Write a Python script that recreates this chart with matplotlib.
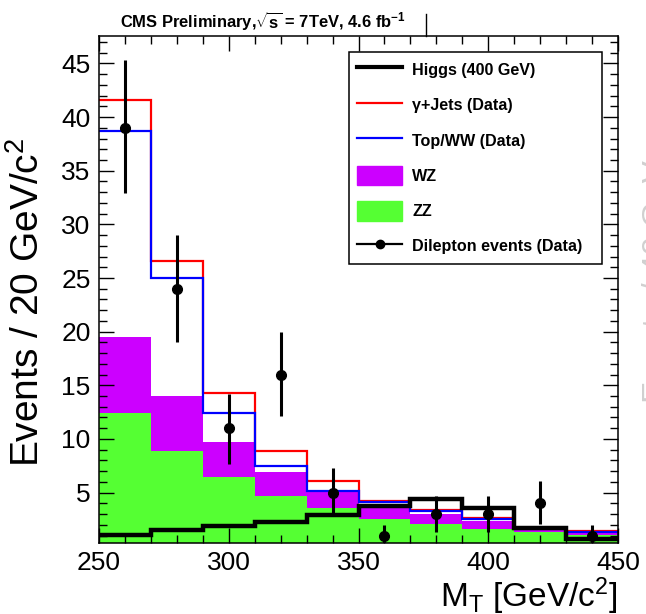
import numpy as np
import matplotlib
matplotlib.use("Agg")
import matplotlib.pyplot as plt
from matplotlib.lines import Line2D
from matplotlib.patches import Patch

plt.rcParams["font.family"] = ["Liberation Sans", "DejaVu Sans"]
plt.rcParams["mathtext.fontset"] = "custom"
plt.rcParams["mathtext.rm"] = "Liberation Sans"
plt.rcParams["mathtext.it"] = "Liberation Sans:italic"
plt.rcParams["mathtext.bf"] = "Liberation Sans:bold"

# bins in M_T (GeV/c^2)
bin_edges = [250, 270, 290, 310, 330, 350, 370, 390, 410, 430, 450]
bin_centers = [260, 280, 300, 320, 340, 360, 380, 400, 420, 440]

# background components (stacked: ZZ, WZ, Top/WW, gamma+jets)
zz = [12.4, 8.9, 6.5, 4.65, 3.52, 2.5, 2.1, 1.57, 1.32, 1.05]
wz = [7.1, 5.15, 3.17, 2.25, 1.55, 1.15, 0.88, 0.75, 0.25, 0.3]
top_ww = [19.2, 10.95, 2.73, 0.57, 0.05, 0.45, 0.29, 0.2, 0.03, 0.02]
gamma_jets = [2.9, 1.6, 1.84, 1.41, 0.92, 0.15, 0.1, 0.15, 0.05, 0.04]

# signal
higgs = [1.05, 1.55, 1.87, 2.3, 2.9, 3.77, 4.4, 3.55, 1.73, 0.65]

# data
data = [39, 24, 11, 16, 5, 1, 3, 3, 4, 1]
err_lo = [6.1, 5.0, 3.3, 3.9, 2.0, 1.0, 1.7, 1.7, 1.95, 1.0]
err_hi = [6.3, 5.0, 3.2, 4.0, 2.3, 1.0, 1.72, 1.72, 2.07, 1.0]

col_wz = "#cc00ff"
col_zz = "#55ff33"

s_zz = np.array(zz)
s_wz = s_zz + np.array(wz)
s_top = s_wz + np.array(top_ww)
s_gj = s_top + np.array(gamma_jets)

fig = plt.figure(figsize=(6.46, 6.14), dpi=100)
ax = fig.add_axes([0.1533, 0.1156, 0.8034, 0.8265])

ymin, ymax = 0.3, 47.6
ax.stairs(s_zz, bin_edges, baseline=ymin, fill=True, color=col_zz, lw=0)
ax.stairs(s_wz, bin_edges, baseline=s_zz, fill=True, color=col_wz, lw=0)
ax.stairs(s_gj, bin_edges, baseline=None, color="#ff0000", lw=1.6)
ax.stairs(s_top, bin_edges, baseline=None, color="#0000ff", lw=1.6)
ax.stairs(higgs, bin_edges, baseline=None, color="black", lw=3.2)
ax.errorbar(bin_centers, data, yerr=[err_lo, err_hi], fmt="o", color="black",
            ms=7, elinewidth=2.2, capsize=0, zorder=5)

ax.set_xlim(250, 450)
ax.set_ylim(ymin, ymax)
ax.set_xticks([250, 300, 350, 400, 450])
ax.set_xticks(np.arange(250, 451, 10), minor=True)
ax.set_yticks([5, 10, 15, 20, 25, 30, 35, 40, 45])
ax.set_yticks(np.arange(1, 48, 1), minor=True)
ax.tick_params(which="both", direction="in", top=True, right=True, width=1)
ax.tick_params(which="major", length=11, labelsize=19, pad=6)
ax.tick_params(which="minor", length=6)
for sp in ax.spines.values():
    sp.set_linewidth(1.1)

ax.set_ylabel("Events / 20 GeV/c$^{2}$", fontsize=28)
ax.yaxis.set_label_coords(-0.1, 0.475)
ax.set_xlabel(r"M$_{\rm T}$ [GeV/c$^{2}$]", fontsize=24, loc="right", labelpad=0)

handles = [
    Line2D([], [], color="black", lw=3),
    Line2D([], [], color="#ff0000", lw=1.6),
    Line2D([], [], color="#0000ff", lw=1.6),
    Patch(facecolor=col_wz, edgecolor=col_wz),
    Patch(facecolor=col_zz, edgecolor=col_zz),
    Line2D([], [], color="black", lw=1.6, marker="o", ms=6),
]
labels = ["Higgs (400 GeV)", "\u03b3+Jets (Data)", "Top/WW (Data)", "WZ", "ZZ",
          "Dilepton events (Data)"]
leg = ax.legend(handles, labels, loc="upper left",
                bbox_to_anchor=(0.482, 0.554, 0.487, 0.414), mode="expand",
                prop={"weight": "bold", "size": 11.6}, frameon=True, fancybox=False,
                edgecolor="black", framealpha=1, borderpad=0.5, labelspacing=0.97,
                handlelength=2.8, handleheight=1.5, handletextpad=0.62, borderaxespad=0)
leg.get_frame().set_linewidth(1.1)

fig.text(0.186, 1 - 28 / 614, r"CMS Preliminary,$\sqrt{\mathbf{s}}$ = 7TeV, 4.6 fb$^{\mathbf{-1}}$",
         fontsize=11.9, fontweight="bold", va="baseline")
fig.add_artist(Line2D([426 / 646, 426 / 646], [1 - 14 / 614, 1 - 36 / 614],
                      transform=fig.transFigure, color="black", lw=1))
fig.text(642 / 646, 1 - 403 / 614, "Events / 40 GeV", rotation=90, fontsize=24,
         color="#d0d0d0", ha="left", va="bottom")

fig.savefig("out.png", dpi=100)
